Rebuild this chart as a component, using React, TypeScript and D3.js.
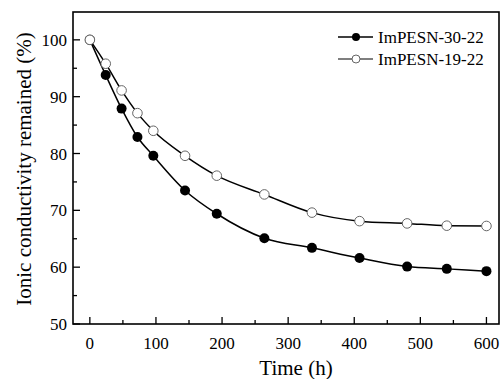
import React from "react";
import * as d3 from "d3";

const times = [0, 24, 48, 72, 96, 144, 192, 264, 336, 408, 480, 540, 600];
const seriesA = [100, 93.8, 87.9, 82.9, 79.6, 73.5, 69.4, 65.1, 63.4, 61.6, 60.1, 59.7, 59.3];
const seriesB = [100, 95.8, 91.1, 87.1, 84.0, 79.6, 76.1, 72.8, 69.6, 68.1, 67.7, 67.3, 67.25];
const seriesNames = ["ImPESN-30-22", "ImPESN-19-22"];
const xTicks = [0, 100, 200, 300, 400, 500, 600];
const yTicks = [50, 60, 70, 80, 90, 100];
const xMinor = [50, 150, 250, 350, 450, 550];
const yMinor = [55, 65, 75, 85, 95];

const W = 501, H = 379;
const L = 73, R = 499, T = 12, B = 324;
const FONT = "'Liberation Serif', 'Times New Roman', serif";

export default function App() {
  const x = d3.scaleLinear().domain([-25.5, 619]).range([L, R]);
  const y = d3.scaleLinear().domain([50, 104.9]).range([B, T]);
  const line = d3
    .line<number>()
    .x((_, i) => x(times[i]))
    .y((d) => y(d))
    .curve(d3.curveMonotoneX);

  return (
    <svg width={W} height={H} style={{ position: "absolute", left: 0, top: 0, background: "#fff" }}>
      <rect x={0} y={0} width={W} height={H} fill="#fff" />
      {/* curves */}
      <path d={line(seriesB) || ""} fill="none" stroke="#000" strokeWidth={1.5} />
      <path d={line(seriesA) || ""} fill="none" stroke="#000" strokeWidth={1.5} />
      {seriesA.map((v, i) => (
        <circle key={"a" + i} cx={x(times[i])} cy={y(v)} r={5} fill="#000" />
      ))}
      {seriesB.map((v, i) => (
        <circle key={"b" + i} cx={x(times[i])} cy={y(v)} r={4.8} fill="#fff" stroke="#666" strokeWidth={1} />
      ))}
      {/* frame */}
      <rect x={L} y={T} width={R - L} height={B - T} fill="none" stroke="#000" strokeWidth={1.6} />
      {/* x ticks */}
      {xTicks.map((t) => (
        <g key={"xt" + t}>
          <line x1={x(t)} x2={x(t)} y1={B} y2={B - 7} stroke="#000" strokeWidth={1.3} />
          <text x={x(t)} y={349} textAnchor="middle" fontFamily={FONT} fontSize={17}>{t}</text>
        </g>
      ))}
      {xMinor.map((t) => (
        <line key={"xm" + t} x1={x(t)} x2={x(t)} y1={B} y2={B - 4} stroke="#000" strokeWidth={1.3} />
      ))}
      {yTicks.map((t) => (
        <g key={"yt" + t}>
          <line x1={L} x2={L + 7} y1={y(t)} y2={y(t)} stroke="#000" strokeWidth={1.3} />
          <text x={67} y={y(t) + 6} textAnchor="end" fontFamily={FONT} fontSize={17}>{t}</text>
        </g>
      ))}
      {yMinor.map((t) => (
        <line key={"ym" + t} x1={L} x2={L + 4} y1={y(t)} y2={y(t)} stroke="#000" strokeWidth={1.3} />
      ))}
      {/* axis titles */}
      <text x={296} y={375} textAnchor="middle" fontFamily={FONT} fontSize={21}>Time (h)</text>
      <text transform={`translate(31,${(T + B) / 2 + 1}) rotate(-90)`} textAnchor="middle" fontFamily={FONT} fontSize={21}>
        Ionic conductivity remained (%)
      </text>
      {/* legend */}
      <line x1={338} x2={373} y1={37} y2={37} stroke="#000" strokeWidth={1.5} />
      <circle cx={356} cy={37} r={4} fill="#000" />
      <text x={378} y={43} fontFamily={FONT} fontSize={17}>{seriesNames[0]}</text>
      <line x1={338} x2={373} y1={59} y2={59} stroke="#000" strokeWidth={1.2} />
      <circle cx={356} cy={59} r={4} fill="#fff" stroke="#666" strokeWidth={1} />
      <text x={378} y={65} fontFamily={FONT} fontSize={17}>{seriesNames[1]}</text>
    </svg>
  );
}
